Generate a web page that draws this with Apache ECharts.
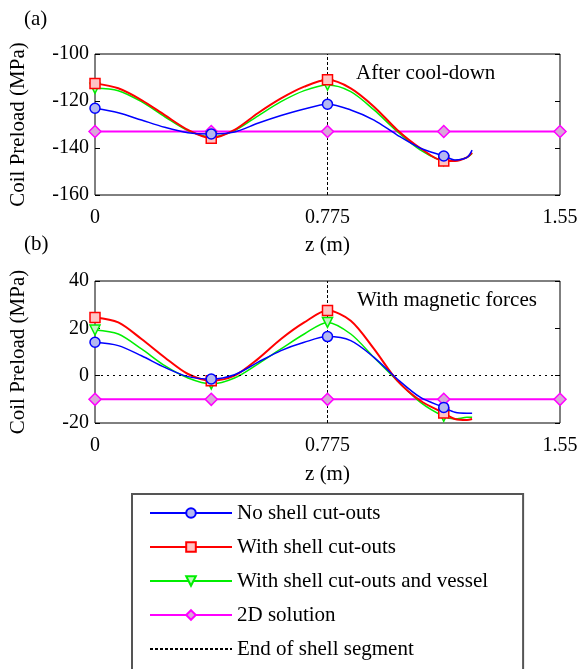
<!DOCTYPE html>
<html>
<head>
<meta charset="utf-8">
<script src="https://cdn.jsdelivr.net/npm/echarts@6/dist/echarts.min.js"></script>
<style>
  html, body { margin: 0; padding: 0; background: #fff; }
  #chart { width: 587px; height: 669px; }
</style>
</head>
<body>
<div id="chart"></div>
<script>
// z positions (m) along the coil
var zPos = [0, 0.0775, 0.155, 0.2325, 0.31, 0.3875, 0.465, 0.5425, 0.62, 0.6975, 0.775,
            0.8525, 0.93, 1.0075, 1.085, 1.1625, 1.2, 1.24, 1.257];
var markerZ = [0, 0.3875, 0.775, 1.1625];
var z2D = [0, 0.3875, 0.775, 1.1625, 1.55];
var shellEnd = 0.775;

// (a) after cool-down
var noCutA = [-123.1, -125.0, -128.1, -131.2, -133.5, -134.0, -133.2, -129.5, -126.2, -123.4, -121.4,
              -123.8, -128.1, -134.5, -140.1, -143.4, -145.1, -144.0, -140.9];
var cutA = [-112.5, -114.6, -119.6, -126.0, -132.3, -135.8, -132.3, -125.2, -118.9, -113.9, -111.0,
            -114.6, -122.4, -132.3, -140.1, -145.5, -145.5, -144.0, -142.0];
var vesselA = [-114.6, -115.6, -120.3, -126.7, -132.6, -135.2, -132.6, -126.4, -120.3, -115.6, -113.2,
               -116.0, -123.8, -133.0, -140.9, -145.3, -145.3, -144.0, -142.3];
var sol2DA = [-133, -133, -133, -133, -133];

// (b) with magnetic forces
var noCutB = [14.1, 12.7, 8.4, 3.5, -0.4, -1.4, 0.4, 5.6, 10.6, 14.1, 16.5,
              14.8, 7.7, -1.4, -9.2, -13.4, -15.5, -15.9, -15.9];
var cutB = [24.6, 22.5, 15.5, 7.7, 0.7, -2.1, 0.0, 7.0, 15.5, 22.5, 27.5,
            23.2, 11.3, -2.1, -10.6, -15.8, -18.3, -18.7, -18.3];
var vesselB = [19.3, 17.6, 11.3, 4.2, -1.0, -3.5, -1.0, 4.9, 11.3, 17.6, 22.5,
               17.6, 7.7, -2.1, -11.3, -17.2, -18.3, -17.6, -17.6];
var sol2DB = [-10, -10, -10, -10, -10];

var names = ['No shell cut-outs', 'With shell cut-outs', 'With shell cut-outs and vessel', '2D solution', 'End of shell segment'];

var font = 'Liberation Serif, Times New Roman, serif';
var chart = echarts.init(document.getElementById('chart'), null, { renderer: 'canvas' });

function pairs(xs, ys) {
  return xs.map(function(x, i) { return [x, ys[i]]; });
}
function markSize(v) {
  for (var i = 0; i < markerZ.length; i++) {
    if (Math.abs(v[0] - markerZ[i]) < 1e-6) return 10;
  }
  return 0;
}

var styles = [
  { color: '#0000ff', fill: '#b4b8f0', symbol: 'circle', width: 1.5, rot: 0 },
  { color: '#ff0000', fill: '#ffc4c4', symbol: 'rect', width: 2, rot: 0 },
  { color: '#00ee00', fill: '#c4f4c4', symbol: 'triangle', width: 1.5, rot: 180 },
  { color: '#ff00ff', fill: '#d8a8d8', symbol: 'diamond', width: 2, rot: 0 }
];

function curve(idx, gi, ys) {
  var s = styles[idx];
  return {
    name: names[idx], type: 'line', xAxisIndex: gi, yAxisIndex: gi * 2,
    data: pairs(zPos, ys), smooth: 0.3, clip: false,
    symbol: s.symbol, symbolSize: markSize, symbolRotate: s.rot, showAllSymbol: true,
    lineStyle: { color: s.color, width: s.width },
    itemStyle: { color: s.fill, borderColor: s.color, borderWidth: 1.5 },
    z: 5 - idx
  };
}
function flat(gi, ys) {
  var s = styles[3];
  return {
    name: names[3], type: 'line', xAxisIndex: gi, yAxisIndex: gi * 2,
    data: pairs(z2D, ys), clip: false,
    symbol: s.symbol, symbolSize: 12, showAllSymbol: true,
    lineStyle: { color: s.color, width: s.width },
    itemStyle: { color: s.fill, borderColor: s.color, borderWidth: 1.5 },
    z: 1
  };
}
function endLine(gi, lo, hi, extra) {
  var ser = {
    name: names[4], type: 'line', xAxisIndex: gi, yAxisIndex: gi * 2,
    data: [[shellEnd, lo], [shellEnd, hi]], symbol: 'none',
    lineStyle: { color: '#000', width: 1, type: [3, 2] },
    itemStyle: { color: '#000' }, z: 0
  };
  if (extra) {
    ser.markLine = {
      silent: true, symbol: 'none', label: { show: false },
      lineStyle: { color: '#000', width: 1, type: [2, 4] },
      data: [{ yAxis: 0 }]
    };
  }
  return ser;
}

function xAx(gi, gap) {
  return {
    type: 'value', gridIndex: gi, min: 0, max: 1.55, interval: 0.775,
    name: 'z (m)', nameLocation: 'middle', nameGap: gap,
    nameTextStyle: { fontFamily: font, fontSize: 21, color: '#000' },
    axisLine: { show: false }, axisTick: { show: false },
    axisLabel: { fontFamily: font, fontSize: 20, color: '#000', margin: 13,
      formatter: function(v) { return String(+v.toFixed(3)); } },
    splitLine: { show: false }
  };
}
function yAxes(gi, lo, hi) {
  return [{
    type: 'value', gridIndex: gi, min: lo, max: hi, interval: 20,
    name: 'Coil Preload (MPa)', nameLocation: 'middle', nameGap: 66,
    nameTextStyle: { fontFamily: font, fontSize: 21, color: '#000' },
    axisLine: { show: false },
    axisTick: { show: true, inside: true, length: 5, lineStyle: { color: '#000' } },
    axisLabel: { fontFamily: font, fontSize: 20, color: '#000', margin: 6 },
    splitLine: { show: false }
  }, {
    type: 'value', gridIndex: gi, position: 'right', min: lo, max: hi, interval: 20,
    axisLine: { show: false },
    axisTick: { show: true, inside: true, length: 5, lineStyle: { color: '#000' } },
    axisLabel: { show: false }, splitLine: { show: false }
  }];
}

var plain = { fontFamily: font, fontSize: 21, fontWeight: 'normal', color: '#000' };

chart.setOption({
  animation: false,
  backgroundColor: '#fff',
  textStyle: { fontFamily: font },
  title: [
    { text: '(a)', left: 19, top: 4, textStyle: plain },
    { text: '(b)', left: 19, top: 229, textStyle: plain },
    { text: 'After cool-down', left: 351, top: 58, textStyle: plain },
    { text: 'With magnetic forces', left: 352, top: 285, textStyle: plain }
  ],
  grid: [
    { left: 94, top: 54, width: 466, height: 141, show: true, borderColor: '#000', borderWidth: 1, backgroundColor: '#fff' },
    { left: 94, top: 281, width: 466, height: 142, show: true, borderColor: '#000', borderWidth: 1, backgroundColor: '#fff' }
  ],
  xAxis: [xAx(0, 40), xAx(1, 41)],
  yAxis: yAxes(0, -160, -100).concat(yAxes(1, -20, 40)),
  legend: {
    data: names.slice(0, 4).concat([{ name: names[4], itemStyle: { opacity: 0 } }]),
    orient: 'vertical', left: 132, top: 494, height: 300,
    itemWidth: 82, itemHeight: 12, itemGap: 12,
    padding: [8, 35, 40, 17],
    borderColor: '#555', borderWidth: 2, backgroundColor: '#fff',
    textStyle: { fontFamily: font, fontSize: 21, color: '#000', lineHeight: 22 }
  },
  series: [
    curve(0, 0, noCutA), curve(1, 0, cutA), curve(2, 0, vesselA), flat(0, sol2DA), endLine(0, -160, -100, false),
    curve(0, 1, noCutB), curve(1, 1, cutB), curve(2, 1, vesselB), flat(1, sol2DB), endLine(1, -20, 40, true)
  ]
});
window.addEventListener('resize', function() { chart.resize(); });
</script>
</body>
</html>
